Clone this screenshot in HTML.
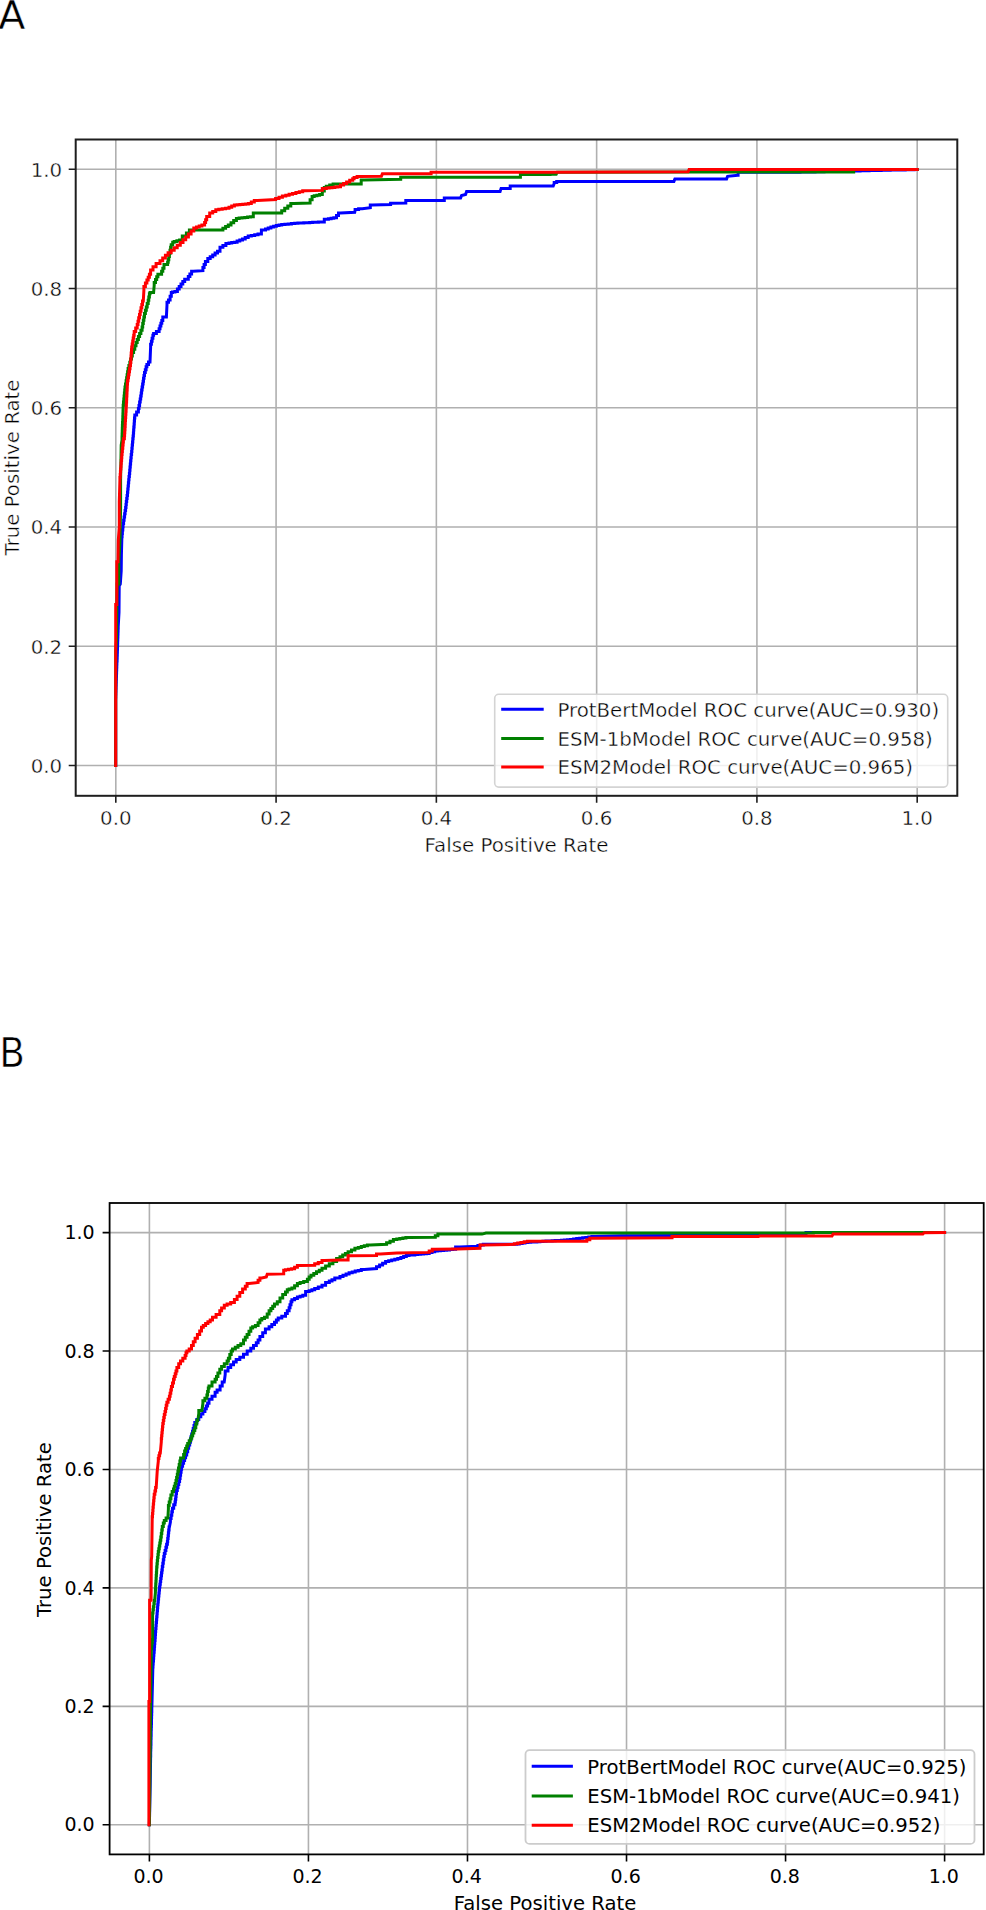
<!DOCTYPE html>
<html><head><meta charset="utf-8"><title>ROC curves</title>
<style>html,body{margin:0;padding:0;background:#fff;}body{width:986px;height:1910px;overflow:hidden;}svg{display:block;}</style></head><body>
<svg width="986" height="1910" viewBox="0 0 986 1910" font-family="'DejaVu Sans', 'Liberation Sans', sans-serif" fill="#000">
<rect width="986" height="1910" fill="#fff"/>
<text transform="translate(-1.85 28.75)" font-size="39.7" stroke="#fff" stroke-width="0.5">A</text>
<text transform="translate(-0.75 1066.5) scale(0.935 1)" font-size="40.1" stroke="#fff" stroke-width="0.6">B</text>
<clipPath id="clipA"><rect x="75.7" y="139.5" width="881.6" height="656.3"/></clipPath>
<path d="M115.80 139.5V795.8M75.7 765.50H957.3M276.08 139.5V795.8M75.7 646.26H957.3M436.36 139.5V795.8M75.7 527.02H957.3M596.64 139.5V795.8M75.7 407.78H957.3M756.92 139.5V795.8M75.7 288.54H957.3M917.20 139.5V795.8M75.7 169.30H957.3" stroke="#b0b0b0" stroke-width="1.6" fill="none"/>
<path d="M115.7,765.5 115.7,700.0 115.7,697.0 115.8,697.0 115.8,694.0 115.9,694.0 115.9,691.0 116.0,691.0 116.0,688.0 116.1,688.0 116.1,685.0 116.2,685.0 116.2,682.0 116.3,682.0 116.3,679.0 116.4,679.0 116.4,676.0 116.5,676.0 116.5,673.0 116.6,673.0 116.6,670.0 116.7,670.0 116.7,667.0 116.8,667.0 116.8,664.0 116.9,664.0 116.9,661.0 117.1,661.0 117.1,658.0 117.2,658.0 117.2,655.0 117.3,655.0 117.3,652.0 117.4,652.0 117.4,649.0 117.5,649.0 117.5,646.0 117.6,646.0 117.6,643.0 117.7,643.0 117.7,640.0 117.8,640.0 117.8,637.0 117.9,637.0 117.9,634.0 118.0,634.0 118.0,631.0 118.1,631.0 118.1,628.0 118.2,628.0 118.2,625.0 118.3,625.0 119.0,612.4 119.2,586.0 120.3,584.0 121.2,571.0 121.4,555.0 121.8,540.0 121.8,536.7 122.1,536.7 122.1,533.4 122.4,533.4 122.4,530.1 122.8,530.1 122.8,526.8 123.1,526.8 123.1,523.5 123.6,523.5 123.6,520.2 124.1,520.2 124.1,517.0 124.6,517.0 124.6,513.7 125.1,513.7 125.1,510.4 125.6,510.4 125.6,507.4 126.0,507.4 126.0,504.4 126.3,504.4 126.3,501.4 126.7,501.4 126.7,498.4 127.1,498.4 127.1,495.4 127.5,495.4 127.5,492.2 127.8,492.2 127.8,489.1 128.1,489.1 128.1,486.0 128.4,486.0 128.4,482.8 128.7,482.8 128.7,479.7 129.0,479.7 129.0,476.5 129.4,476.5 129.4,473.4 129.7,473.4 129.7,470.2 130.0,470.2 130.0,467.1 130.3,467.1 130.3,464.0 130.6,464.0 130.6,460.8 130.9,460.8 130.9,457.7 131.2,457.7 131.2,454.5 131.6,454.5 131.6,451.4 131.9,451.4 131.9,448.3 132.2,448.3 132.2,445.1 132.5,445.1 132.5,442.0 132.8,442.0 132.8,438.8 133.1,438.8 133.1,435.9 133.4,435.9 133.4,432.9 133.6,432.9 133.6,429.9 133.8,429.9 133.8,426.9 134.1,426.9 134.1,423.9 134.3,423.9 134.3,420.9 134.5,420.9 134.5,417.9 134.8,417.9 134.8,414.9 136.6,414.9 136.6,411.9 138.4,411.9 138.4,408.6 139.0,408.6 139.0,405.4 139.6,405.4 139.6,402.1 140.2,402.1 140.2,399.1 140.7,399.1 140.7,396.0 141.2,396.0 141.2,393.0 141.6,393.0 141.6,389.9 142.1,389.9 142.1,387.0 142.6,387.0 142.6,384.1 143.1,384.1 143.1,381.2 143.5,381.2 143.5,378.3 144.0,378.3 144.0,375.4 144.5,375.4 144.5,372.5 145.3,372.5 145.3,369.7 146.1,369.7 146.1,366.8 146.9,366.8 146.9,364.4 148.5,364.4 148.5,362.0 150.0,362.0 150.6,347.4 150.6,344.3 151.4,344.3 151.4,341.3 152.1,341.3 152.1,338.2 152.9,338.2 152.9,335.2 153.6,335.2 153.6,333.4 156.4,333.4 156.4,331.5 159.1,331.5 159.1,328.8 160.0,328.8 160.0,326.1 160.9,326.1 160.9,323.3 161.8,323.3 161.8,320.6 162.8,320.6 162.8,316.9 166.4,316.9 167.0,304.8 167.0,302.3 168.5,302.3 168.5,299.9 170.1,299.9 170.1,296.2 171.3,296.2 171.3,292.6 172.5,292.6 172.5,292.0 174.9,292.0 174.9,291.4 177.4,291.4 177.4,288.9 179.2,288.9 179.2,286.5 181.0,286.5 181.0,284.1 182.8,284.1 182.8,281.6 184.7,281.6 184.7,279.2 188.3,279.2 188.3,276.6 189.9,276.6 189.9,273.9 191.6,273.9 191.6,271.3 193.2,271.3 202.9,270.7 202.9,267.6 204.1,267.6 204.1,264.6 205.4,264.6 205.4,261.6 207.8,261.6 207.8,258.5 210.2,258.5 210.2,256.7 212.7,256.7 212.7,254.9 215.1,254.9 215.1,253.0 217.5,253.0 217.5,251.2 220.0,251.2 220.0,247.2 222.9,247.2 222.9,245.4 225.9,245.4 225.9,243.6 229.0,243.6 229.0,243.1 231.7,243.1 231.7,242.6 234.4,242.6 234.4,242.2 237.1,242.2 237.1,241.1 239.8,241.1 239.8,240.1 242.5,240.1 242.5,239.1 245.2,239.1 245.2,237.6 248.2,237.6 248.2,236.1 251.3,236.1 251.3,235.4 254.7,235.4 254.7,234.7 258.0,234.7 258.0,234.0 261.4,234.0 261.4,230.0 265.5,230.0 265.5,229.0 268.2,229.0 268.2,228.0 270.9,228.0 270.9,226.9 273.6,226.9 273.6,226.3 276.3,226.3 276.3,225.6 279.0,225.6 279.0,224.9 281.7,224.9 281.7,224.6 284.9,224.6 284.9,224.3 288.2,224.3 288.2,223.9 291.4,223.9 291.4,223.6 294.7,223.6 294.7,223.3 297.9,223.3 297.9,223.1 300.9,223.1 300.9,223.0 303.8,223.0 303.8,222.8 306.7,222.8 306.7,222.7 309.7,222.7 309.7,222.5 312.6,222.5 312.6,222.3 315.5,222.3 315.5,222.2 318.4,222.2 318.4,222.0 321.4,222.0 321.4,221.9 324.3,221.9 324.3,219.2 328.4,219.2 328.4,218.8 331.1,218.8 331.1,218.3 333.8,218.3 333.8,217.8 336.5,217.8 336.5,215.5 338.5,215.5 338.5,213.1 340.5,213.1 354.7,212.3 355.1,210.3 355.1,209.5 358.6,209.5 358.6,208.7 362.2,208.7 370.3,207.7 370.3,205.0 372.3,205.0 390.6,204.6 390.6,203.2 392.6,203.2 405.8,203.0 405.8,200.6 407.8,200.6 444.3,200.6 444.3,197.9 446.4,197.9 460.6,197.9 461.6,195.5 465.6,194.5 466.6,191.4 500.1,191.4 501.1,188.4 510.2,188.4 510.2,186.0 512.3,186.0 550.0,186.0 553.2,186.0 554.2,183.4 554.2,182.4 556.7,182.4 556.7,181.4 559.3,181.4 673.9,181.4 674.9,178.9 726.6,178.9 727.6,176.3 737.8,175.3 738.1,175.3 738.1,172.2 800.0,172.2 800.0,172.1 803.0,172.1 803.0,172.1 806.0,172.1 806.0,172.0 809.0,172.0 809.0,171.9 812.0,171.9 812.0,171.9 815.0,171.9 815.0,171.8 818.0,171.8 818.0,171.7 821.0,171.7 821.0,171.7 824.0,171.7 824.0,171.6 827.0,171.6 827.0,171.5 830.1,171.5 830.1,171.5 833.1,171.5 833.1,171.4 836.1,171.4 836.1,171.3 839.1,171.3 839.1,171.3 842.1,171.3 842.1,171.2 845.1,171.2 845.1,171.1 848.1,171.1 848.1,171.1 851.1,171.1 851.1,171.0 854.1,171.0 854.1,170.9 857.1,170.9 857.1,170.9 860.1,170.9 860.1,170.8 863.1,170.8 863.1,170.7 866.1,170.7 866.1,170.7 869.1,170.7 869.1,170.6 872.1,170.6 872.1,170.5 875.1,170.5 875.1,170.5 878.1,170.5 878.1,170.4 881.1,170.4 881.1,170.3 884.1,170.3 884.1,170.3 887.1,170.3 887.1,170.2 890.2,170.2 890.2,170.1 893.2,170.1 893.2,170.1 896.2,170.1 896.2,170.0 899.2,170.0 899.2,169.9 902.2,169.9 902.2,169.9 905.2,169.9 905.2,169.8 908.2,169.8 908.2,169.7 911.2,169.7 911.2,169.7 914.2,169.7 914.2,169.6 917.2,169.6" stroke="#0000ff" stroke-width="3" fill="none" stroke-linejoin="miter" stroke-linecap="square" clip-path="url(#clipA)"/>
<path d="M115.7,765.5 115.7,651.0 116.5,640.0 116.9,600.0 117.2,586.0 117.2,584.0 118.8,584.0 118.8,562.0 119.6,548.0 120.0,540.0 120.6,507.9 120.6,480.3 121.2,445.1 122.0,439.9 122.0,437.0 122.1,437.0 122.1,434.1 122.2,434.1 122.2,431.2 122.3,431.2 122.3,428.3 122.4,428.3 122.4,425.5 122.5,425.5 122.5,422.6 122.7,422.6 122.7,419.7 122.8,419.7 122.8,416.8 122.9,416.8 122.9,414.0 123.0,414.0 123.0,411.1 123.1,411.1 123.1,408.2 123.2,408.2 123.2,405.2 123.5,405.2 123.5,402.1 123.8,402.1 123.8,399.1 124.1,399.1 124.1,396.0 124.4,396.0 124.4,393.0 124.7,393.0 124.7,389.9 125.0,389.9 125.0,386.9 125.5,386.9 125.5,383.9 126.1,383.9 126.1,380.8 126.6,380.8 126.6,377.8 127.1,377.8 127.1,374.7 127.6,374.7 127.6,371.7 128.1,371.7 128.1,368.5 128.9,368.5 128.9,365.4 129.8,365.4 129.8,362.2 130.6,362.2 130.6,359.0 131.5,359.0 131.5,355.9 132.3,355.9 132.3,352.5 133.6,352.5 133.6,349.2 134.8,349.2 134.8,345.8 136.0,345.8 136.0,342.5 137.2,342.5 137.2,339.4 138.4,339.4 138.4,336.4 139.6,336.4 139.6,333.4 140.9,333.4 140.9,330.3 142.1,330.3 142.1,327.0 142.7,327.0 142.7,323.6 143.3,323.6 143.3,320.3 143.9,320.3 143.9,316.9 144.5,316.9 144.5,313.6 145.4,313.6 145.4,310.2 146.3,310.2 146.3,306.9 147.2,306.9 147.2,303.6 148.2,303.6 148.2,300.3 148.8,300.3 148.8,297.1 149.4,297.1 149.4,293.8 150.0,293.8 150.0,292.6 153.6,292.6 154.2,285.3 154.2,282.4 155.5,282.4 155.5,279.6 156.7,279.6 156.7,276.8 157.9,276.8 157.9,274.3 161.6,274.3 161.6,271.3 162.8,271.3 162.8,268.2 164.0,268.2 164.0,264.6 167.6,264.6 167.6,262.2 168.2,262.2 168.2,259.7 168.8,259.7 168.8,256.6 169.4,256.6 169.4,253.5 170.0,253.5 170.0,250.3 170.6,250.3 170.6,247.2 171.2,247.2 171.2,244.7 172.7,244.7 172.7,242.2 174.2,242.2 174.2,241.5 176.9,241.5 176.9,240.8 179.6,240.8 179.6,240.1 182.3,240.1 182.3,236.1 186.4,236.1 186.4,233.0 189.4,233.0 189.4,230.0 192.4,230.0 222.9,230.0 222.9,228.3 225.6,228.3 225.6,226.6 228.3,226.6 228.3,224.9 231.0,224.9 231.0,222.7 233.7,222.7 233.7,220.6 236.4,220.6 236.4,218.4 239.1,218.4 239.1,218.1 242.0,218.1 242.0,217.8 244.8,217.8 244.8,217.4 247.6,217.4 247.6,217.1 250.5,217.1 250.5,216.8 253.3,216.8 253.3,213.1 255.3,213.1 281.7,213.1 281.7,210.7 284.7,210.7 284.7,208.3 287.8,208.3 287.8,205.9 290.8,205.9 290.8,203.6 293.9,203.6 310.1,203.0 310.1,199.8 312.1,199.8 312.1,196.5 314.2,196.5 314.2,195.8 316.9,195.8 316.9,195.2 319.6,195.2 319.6,194.5 322.3,194.5 322.3,190.9 324.3,190.9 324.3,187.4 326.3,187.4 326.3,186.2 329.7,186.2 329.7,185.1 333.1,185.1 333.1,183.9 336.5,183.9 350.0,183.9 361.2,183.9 361.2,179.9 364.2,179.9 400.7,179.3 400.7,177.2 402.7,177.2 520.4,177.2 520.4,174.6 522.4,174.6 550.0,174.6 550.0,174.3 556.2,174.3 557.2,172.2 690.0,172.0 853.7,172.0 853.7,169.6 917.2,169.6" stroke="#008000" stroke-width="3" fill="none" stroke-linejoin="miter" stroke-linecap="square" clip-path="url(#clipA)"/>
<path d="M115.7,765.5 115.7,604.4 116.8,604.4 116.8,561.8 118.0,561.8 118.3,540.0 119.3,526.8 119.3,501.7 119.9,480.3 119.9,477.5 120.2,477.5 120.2,474.6 120.4,474.6 120.4,471.8 120.6,471.8 120.6,469.0 120.9,469.0 120.9,466.2 121.1,466.2 121.1,463.3 121.3,463.3 121.3,460.5 121.6,460.5 121.6,457.7 121.8,457.7 121.8,454.5 122.1,454.5 122.1,451.4 122.4,451.4 122.4,448.3 122.8,448.3 122.8,445.1 123.1,445.1 123.1,442.0 123.4,442.0 123.4,438.8 123.7,438.8 124.4,438.8 124.4,435.8 124.6,435.8 124.6,432.7 124.8,432.7 124.8,429.7 125.0,429.7 125.0,426.6 125.2,426.6 125.2,423.5 125.3,423.5 125.3,420.5 125.5,420.5 125.5,417.4 125.7,417.4 125.7,414.3 125.9,414.3 125.9,411.3 126.1,411.3 126.1,408.2 126.2,408.2 126.2,405.2 126.4,405.2 126.4,402.1 126.6,402.1 126.6,399.1 126.7,399.1 126.7,396.0 126.9,396.0 126.9,393.0 127.0,393.0 127.0,390.0 127.2,390.0 127.2,386.9 127.3,386.9 127.3,383.9 127.5,383.9 127.5,380.8 128.0,380.8 128.0,377.8 128.5,377.8 128.5,374.7 129.0,374.7 129.0,371.7 129.5,371.7 129.5,368.7 130.0,368.7 130.0,365.6 130.5,365.6 130.5,362.4 130.8,362.4 130.8,359.3 131.0,359.3 131.0,356.1 131.2,356.1 131.2,353.0 131.5,353.0 131.5,349.8 131.7,349.8 131.7,346.9 132.2,346.9 132.2,343.9 132.7,343.9 132.7,341.0 133.2,341.0 133.2,338.1 133.7,338.1 133.7,335.2 134.2,335.2 134.2,331.5 135.7,331.5 135.7,327.9 137.2,327.9 137.2,324.5 138.0,324.5 138.0,321.2 138.7,321.2 138.7,317.8 139.5,317.8 139.5,314.5 140.2,314.5 140.2,311.2 141.0,311.2 141.0,307.8 141.8,307.8 141.8,304.5 142.5,304.5 142.5,301.1 143.3,301.1 143.9,290.2 143.9,286.5 145.4,286.5 145.4,282.9 146.9,282.9 146.9,280.0 148.2,280.0 148.2,277.2 149.4,277.2 149.4,274.3 150.6,274.3 150.6,270.1 153.0,270.1 153.0,266.7 156.1,266.7 156.1,263.4 159.1,263.4 160.0,263.4 160.0,260.7 162.7,260.7 162.7,258.0 165.4,258.0 165.4,255.3 168.1,255.3 168.1,252.8 171.2,252.8 171.2,250.3 174.2,250.3 174.2,247.7 177.2,247.7 177.2,245.2 180.3,245.2 180.3,242.5 183.0,242.5 183.0,239.8 185.7,239.8 185.7,237.1 188.4,237.1 188.4,234.0 191.1,234.0 191.1,231.0 193.8,231.0 193.8,227.9 196.5,227.9 196.5,226.9 199.2,226.9 199.2,225.9 201.9,225.9 201.9,224.9 204.6,224.9 204.6,222.4 205.6,222.4 205.6,219.8 206.7,219.8 206.7,216.5 209.7,216.5 209.7,213.1 212.7,213.1 212.7,211.4 215.8,211.4 215.8,209.7 218.8,209.7 218.8,209.2 222.2,209.2 222.2,208.8 225.6,208.8 225.6,208.3 229.0,208.3 229.0,207.2 231.7,207.2 231.7,206.1 234.4,206.1 234.4,205.0 237.1,205.0 237.1,204.7 239.9,204.7 239.9,204.5 242.8,204.5 242.8,204.2 245.6,204.2 245.6,203.9 248.4,203.9 248.4,203.6 251.3,203.6 251.3,202.1 254.3,202.1 254.3,200.6 257.4,200.6 275.6,199.6 275.6,198.4 279.0,198.4 279.0,197.3 282.4,197.3 282.4,196.1 285.8,196.1 285.8,195.2 289.1,195.2 289.1,194.3 292.5,194.3 292.5,193.5 295.9,193.5 295.9,192.6 299.3,192.6 299.3,191.7 302.7,191.7 302.7,190.8 306.0,190.8 322.3,190.4 322.3,188.4 326.3,188.4 326.3,188.1 329.2,188.1 329.2,187.7 332.0,187.7 332.0,187.4 334.8,187.4 334.8,187.1 337.7,187.1 337.7,186.8 340.5,186.8 340.5,185.1 343.6,185.1 343.6,183.5 346.6,183.5 346.6,181.9 349.7,181.9 349.7,180.3 352.7,180.3 352.7,178.7 354.1,178.7 354.1,177.6 357.1,177.6 357.1,176.6 360.1,176.6 381.4,176.2 382.4,173.8 431.1,173.8 431.1,172.2 433.2,172.2 550.0,172.2 688.1,171.8 689.1,169.6 917.2,169.6" stroke="#ff0000" stroke-width="3" fill="none" stroke-linejoin="miter" stroke-linecap="square" clip-path="url(#clipA)"/>
<rect x="494.7" y="694.3" width="453.0" height="92.8" rx="4" ry="4" fill="#ffffff" fill-opacity="0.8" stroke="#d4d4d4" stroke-width="1.6"/>
<path d="M502.7 709.2H542.2" stroke="#0000ff" stroke-width="3" stroke-linecap="square"/>
<text stroke="#fff" stroke-width="0.4" x="557.4" y="716.5" font-size="19.8">ProtBertModel ROC curve(AUC=0.930)</text>
<path d="M502.7 738.4H542.2" stroke="#008000" stroke-width="3" stroke-linecap="square"/>
<text stroke="#fff" stroke-width="0.4" x="557.4" y="745.7" font-size="19.8">ESM-1bModel ROC curve(AUC=0.958)</text>
<path d="M502.7 767.1H542.2" stroke="#ff0000" stroke-width="3" stroke-linecap="square"/>
<text stroke="#fff" stroke-width="0.4" x="557.4" y="774.4" font-size="19.8">ESM2Model ROC curve(AUC=0.965)</text>
<rect x="75.7" y="139.5" width="881.6" height="656.3" fill="none" stroke="#1e1e1e" stroke-width="2.0" stroke-linejoin="miter"/>
<path d="M115.80 795.8v7M75.7 765.50h-7M276.08 795.8v7M75.7 646.26h-7M436.36 795.8v7M75.7 527.02h-7M596.64 795.8v7M75.7 407.78h-7M756.92 795.8v7M75.7 288.54h-7M917.20 795.8v7M75.7 169.30h-7" stroke="#1e1e1e" stroke-width="1.6"/>
<text stroke="#fff" stroke-width="0.4" x="115.8" y="824.7" font-size="19.8" text-anchor="middle">0.0</text>
<text stroke="#fff" stroke-width="0.4" x="62.1" y="772.8" font-size="19.8" text-anchor="end">0.0</text>
<text stroke="#fff" stroke-width="0.4" x="276.1" y="824.7" font-size="19.8" text-anchor="middle">0.2</text>
<text stroke="#fff" stroke-width="0.4" x="62.1" y="653.6" font-size="19.8" text-anchor="end">0.2</text>
<text stroke="#fff" stroke-width="0.4" x="436.4" y="824.7" font-size="19.8" text-anchor="middle">0.4</text>
<text stroke="#fff" stroke-width="0.4" x="62.1" y="534.3" font-size="19.8" text-anchor="end">0.4</text>
<text stroke="#fff" stroke-width="0.4" x="596.6" y="824.7" font-size="19.8" text-anchor="middle">0.6</text>
<text stroke="#fff" stroke-width="0.4" x="62.1" y="415.1" font-size="19.8" text-anchor="end">0.6</text>
<text stroke="#fff" stroke-width="0.4" x="756.9" y="824.7" font-size="19.8" text-anchor="middle">0.8</text>
<text stroke="#fff" stroke-width="0.4" x="62.1" y="295.8" font-size="19.8" text-anchor="end">0.8</text>
<text stroke="#fff" stroke-width="0.4" x="917.2" y="824.7" font-size="19.8" text-anchor="middle">1.0</text>
<text stroke="#fff" stroke-width="0.4" x="62.1" y="176.6" font-size="19.8" text-anchor="end">1.0</text>
<text stroke="#fff" stroke-width="0.4" x="516.5" y="851.9" text-anchor="middle" font-size="19.8">False Positive Rate</text>
<text stroke="#fff" stroke-width="0.4" transform="translate(19.0 467.6) rotate(-90)" x="0" y="0" font-size="19.8" text-anchor="middle">True Positive Rate</text>
<clipPath id="clipB"><rect x="109.6" y="1203.0" width="874.1" height="651.4"/></clipPath>
<path d="M149.40 1203.0V1854.4M109.6 1824.80H983.7M308.44 1203.0V1854.4M109.6 1706.36H983.7M467.48 1203.0V1854.4M109.6 1587.92H983.7M626.52 1203.0V1854.4M109.6 1469.48H983.7M785.56 1203.0V1854.4M109.6 1351.04H983.7M944.60 1203.0V1854.4M109.6 1232.60H983.7" stroke="#b0b0b0" stroke-width="1.6" fill="none"/>
<path d="M149.4,1824.8 150.2,1785.0 150.6,1759.0 150.6,1756.0 150.7,1756.0 150.7,1753.1 150.7,1753.1 150.7,1750.1 150.8,1750.1 150.8,1747.2 150.9,1747.2 150.9,1744.2 151.0,1744.2 151.0,1741.2 151.0,1741.2 151.0,1738.3 151.1,1738.3 151.1,1735.3 151.2,1735.3 151.2,1732.3 151.2,1732.3 151.2,1729.4 151.3,1729.4 151.3,1726.4 151.4,1726.4 151.4,1723.5 151.5,1723.5 151.5,1720.5 151.5,1720.5 151.5,1717.5 151.6,1717.5 151.6,1714.6 151.7,1714.6 151.7,1711.6 151.8,1711.6 151.8,1708.7 151.8,1708.7 151.8,1705.7 151.9,1705.7 152.8,1670.0 152.8,1667.0 153.0,1667.0 153.0,1664.1 153.2,1664.1 153.2,1661.1 153.5,1661.1 153.5,1658.2 153.7,1658.2 153.7,1655.2 153.9,1655.2 153.9,1652.2 154.2,1652.2 154.2,1649.3 154.4,1649.3 154.4,1646.3 154.6,1646.3 154.6,1643.4 154.8,1643.4 154.8,1640.4 155.1,1640.4 155.1,1637.5 155.3,1637.5 155.3,1634.5 155.5,1634.5 155.5,1631.5 155.7,1631.5 155.7,1628.6 156.0,1628.6 156.0,1625.6 156.2,1625.6 156.2,1622.6 156.5,1622.6 156.5,1619.7 156.7,1619.7 156.7,1616.7 157.0,1616.7 157.0,1613.7 157.2,1613.7 157.2,1610.8 157.5,1610.8 157.5,1607.8 157.7,1607.8 157.7,1604.8 158.0,1604.8 158.0,1601.9 158.3,1601.9 158.3,1598.9 158.6,1598.9 158.6,1595.9 158.9,1595.9 158.9,1593.0 159.2,1593.0 159.2,1590.0 159.5,1590.0 159.5,1587.1 159.9,1587.1 159.9,1584.3 160.3,1584.3 160.3,1581.4 160.7,1581.4 160.7,1578.5 161.1,1578.5 161.1,1575.7 161.5,1575.7 161.5,1572.8 161.9,1572.8 161.9,1570.0 162.3,1570.0 162.3,1566.6 162.8,1566.6 162.8,1563.2 163.3,1563.2 163.3,1559.8 163.8,1559.8 163.8,1556.5 164.3,1556.5 164.3,1553.4 165.1,1553.4 165.1,1550.4 165.9,1550.4 165.9,1547.3 166.6,1547.3 166.6,1544.3 167.4,1544.3 167.4,1541.4 167.7,1541.4 167.7,1538.6 168.1,1538.6 168.1,1535.7 168.4,1535.7 168.4,1532.8 168.7,1532.8 168.7,1529.9 169.1,1529.9 169.1,1527.1 169.4,1527.1 170.4,1522.0 170.4,1518.6 171.1,1518.6 171.1,1515.2 171.8,1515.2 171.8,1511.8 172.4,1511.8 172.4,1508.3 173.7,1508.3 173.7,1504.8 175.0,1504.8 175.0,1502.0 175.4,1502.0 175.4,1499.2 175.8,1499.2 175.8,1496.4 176.1,1496.4 176.1,1493.6 176.5,1493.6 176.5,1490.5 177.3,1490.5 177.3,1487.5 178.0,1487.5 178.0,1484.5 178.8,1484.5 178.8,1481.4 179.6,1481.4 179.6,1478.4 180.1,1478.4 180.1,1475.3 180.6,1475.3 180.6,1472.3 181.1,1472.3 181.1,1469.2 181.6,1469.2 181.6,1466.2 182.6,1466.2 182.6,1463.2 183.6,1463.2 183.6,1460.5 184.6,1460.5 184.6,1457.8 185.6,1457.8 185.6,1455.0 186.7,1455.0 186.7,1451.7 187.7,1451.7 187.7,1448.3 188.7,1448.3 188.7,1444.9 189.7,1444.9 189.7,1442.2 190.4,1442.2 190.4,1439.5 191.0,1439.5 191.0,1436.8 191.7,1436.8 191.7,1434.0 192.5,1434.0 192.5,1431.2 193.2,1431.2 193.2,1428.4 194.0,1428.4 194.0,1425.6 194.8,1425.6 194.8,1422.6 196.8,1422.6 196.8,1419.5 198.8,1419.5 198.8,1416.8 200.8,1416.8 200.8,1414.1 202.9,1414.1 202.9,1411.4 204.9,1411.4 204.9,1408.7 206.3,1408.7 206.3,1406.0 207.6,1406.0 207.6,1403.3 209.0,1403.3 209.0,1399.3 212.0,1399.3 212.0,1396.2 215.1,1396.2 215.1,1392.2 217.1,1392.2 217.1,1390.1 220.1,1390.1 220.1,1386.1 222.2,1386.1 222.2,1382.0 224.2,1382.0 224.2,1382.0 225.2,1374.7 225.2,1371.0 228.0,1371.0 228.0,1367.4 230.7,1367.4 230.7,1364.7 233.5,1364.7 233.5,1361.9 236.2,1361.9 236.2,1359.6 239.8,1359.6 239.8,1357.3 243.5,1357.3 243.5,1354.2 247.2,1354.2 247.2,1351.0 250.8,1351.0 250.8,1348.2 253.5,1348.2 253.5,1345.5 256.3,1345.5 256.3,1342.7 258.1,1342.7 258.1,1340.0 259.9,1340.0 259.9,1336.4 262.7,1336.4 262.7,1332.7 265.4,1332.7 265.4,1329.0 269.1,1329.0 269.1,1326.8 271.8,1326.8 271.8,1324.5 274.5,1324.5 274.5,1322.2 276.4,1322.2 276.4,1319.9 278.2,1319.9 278.2,1318.1 281.8,1318.1 281.8,1316.3 285.5,1316.3 285.5,1313.5 287.3,1313.5 287.3,1310.8 289.1,1310.8 289.1,1307.8 290.0,1307.8 290.0,1304.7 291.0,1304.7 291.0,1301.7 291.9,1301.7 291.9,1299.8 294.6,1299.8 294.6,1298.5 297.4,1298.5 297.4,1297.1 300.1,1297.1 300.1,1296.2 302.8,1296.2 302.8,1295.3 305.6,1295.3 305.6,1291.6 309.2,1291.6 309.2,1290.7 311.9,1290.7 311.9,1289.8 314.7,1289.8 314.7,1288.4 318.3,1288.4 318.3,1287.1 322.0,1287.1 322.0,1285.2 325.6,1285.2 325.6,1282.5 329.3,1282.5 329.3,1281.1 332.0,1281.1 332.0,1279.8 334.8,1279.8 334.8,1277.9 338.4,1277.9 340.0,1277.9 340.0,1276.6 343.0,1276.6 343.0,1275.3 346.1,1275.3 346.1,1274.0 349.1,1274.0 349.1,1272.7 352.2,1272.7 352.2,1271.9 355.2,1271.9 355.2,1271.1 358.3,1271.1 358.3,1270.4 361.3,1270.4 361.3,1269.6 364.3,1269.6 376.5,1268.6 376.5,1266.8 379.6,1266.8 379.6,1265.1 382.6,1265.1 382.6,1263.3 385.6,1263.3 385.6,1261.5 388.7,1261.5 388.7,1260.8 391.7,1260.8 391.7,1260.0 394.8,1260.0 394.8,1259.2 397.8,1259.2 397.8,1258.5 400.9,1258.5 400.9,1257.5 403.6,1257.5 403.6,1256.4 406.3,1256.4 406.3,1255.4 409.0,1255.4 409.0,1255.1 411.9,1255.1 411.9,1254.9 414.8,1254.9 414.8,1254.6 417.7,1254.6 417.7,1254.3 420.6,1254.3 420.6,1254.0 423.5,1254.0 423.5,1253.7 426.4,1253.7 426.4,1253.4 429.2,1253.4 429.2,1252.6 432.0,1252.6 432.0,1251.8 434.7,1251.8 434.7,1251.0 437.4,1251.0 437.4,1250.7 440.4,1250.7 440.4,1250.4 443.4,1250.4 443.4,1250.2 446.5,1250.2 446.5,1249.9 449.5,1249.9 449.5,1249.6 452.6,1249.6 452.6,1249.3 455.6,1249.3 455.6,1246.9 459.7,1246.9 477.9,1246.3 477.9,1245.6 480.6,1245.6 480.6,1244.9 483.3,1244.9 483.3,1244.3 486.0,1244.3 516.5,1244.3 516.5,1243.9 519.3,1243.9 519.3,1243.5 522.1,1243.5 522.1,1243.1 525.0,1243.1 525.0,1242.6 527.8,1242.6 527.8,1242.2 530.7,1242.2 530.7,1242.1 533.7,1242.1 533.7,1241.9 536.8,1241.9 536.8,1241.7 539.9,1241.7 539.9,1241.5 542.9,1241.5 542.9,1241.3 546.0,1241.3 546.0,1241.1 549.1,1241.1 549.1,1241.0 552.2,1241.0 552.2,1240.8 555.2,1240.8 555.2,1240.6 558.3,1240.6 558.3,1240.4 561.4,1240.4 561.4,1240.2 564.4,1240.2 564.4,1240.0 567.5,1240.0 567.5,1239.8 570.6,1239.8 570.6,1239.4 573.6,1239.4 573.6,1239.0 576.7,1239.0 576.7,1238.6 579.7,1238.6 579.7,1238.2 582.7,1238.2 582.7,1237.8 585.8,1237.8 585.8,1237.4 588.8,1237.4 588.8,1237.0 591.9,1237.0 591.9,1236.6 594.9,1236.6 621.3,1235.8 742.2,1235.2 806.0,1235.2 806.0,1232.6 944.6,1232.6" stroke="#0000ff" stroke-width="3" fill="none" stroke-linejoin="miter" stroke-linecap="square" clip-path="url(#clipB)"/>
<path d="M149.4,1824.8 150.3,1740.0 150.6,1700.0 151.3,1652.0 151.3,1648.9 151.6,1648.9 151.6,1645.8 151.9,1645.8 151.9,1642.8 152.3,1642.8 152.3,1639.7 152.6,1639.7 152.6,1616.0 152.6,1612.9 153.0,1612.9 153.0,1609.8 153.4,1609.8 153.4,1606.7 153.9,1606.7 153.9,1603.6 154.3,1603.6 154.3,1600.5 154.7,1600.5 155.4,1592.6 155.4,1589.8 155.6,1589.8 155.6,1586.9 155.7,1586.9 155.7,1584.1 155.9,1584.1 155.9,1581.3 156.1,1581.3 156.1,1578.5 156.2,1578.5 156.2,1575.6 156.4,1575.6 156.4,1572.8 156.6,1572.8 156.6,1570.0 156.7,1570.0 156.7,1566.9 157.0,1566.9 157.0,1563.8 157.3,1563.8 157.3,1560.6 157.6,1560.6 157.6,1557.5 158.0,1557.5 158.0,1554.4 158.3,1554.4 158.3,1551.6 158.8,1551.6 158.8,1548.8 159.3,1548.8 159.3,1545.9 159.8,1545.9 159.8,1543.1 160.3,1543.1 160.3,1540.2 160.8,1540.2 160.8,1536.9 161.3,1536.9 161.3,1533.5 161.8,1533.5 161.8,1530.1 162.3,1530.1 162.3,1526.5 163.3,1526.5 163.3,1523.0 164.3,1523.0 164.3,1520.5 166.1,1520.5 166.1,1517.9 167.9,1517.9 168.4,1508.8 168.4,1505.4 169.2,1505.4 169.2,1502.0 170.1,1502.0 170.1,1498.7 170.9,1498.7 170.9,1495.1 172.2,1495.1 172.2,1491.6 173.5,1491.6 173.5,1488.9 174.3,1488.9 174.3,1486.2 175.2,1486.2 175.2,1483.5 176.0,1483.5 176.0,1480.4 176.6,1480.4 176.6,1477.4 177.3,1477.4 177.3,1474.3 177.9,1474.3 177.9,1471.3 178.5,1471.3 178.5,1467.9 179.2,1467.9 179.2,1464.5 179.9,1464.5 179.9,1461.1 180.6,1461.1 180.6,1458.1 183.6,1458.1 183.6,1454.5 184.6,1454.5 184.6,1451.0 185.6,1451.0 185.6,1448.5 186.7,1448.5 186.7,1445.9 187.7,1445.9 187.7,1443.4 189.2,1443.4 189.2,1440.8 190.7,1440.8 190.7,1438.3 191.7,1438.3 191.7,1435.8 192.7,1435.8 192.7,1433.1 193.8,1433.1 193.8,1430.4 194.8,1430.4 194.8,1427.7 195.8,1427.7 195.8,1424.1 196.8,1424.1 196.8,1420.6 197.8,1420.6 198.8,1413.5 198.8,1410.4 201.9,1410.4 202.9,1403.3 202.9,1400.8 204.9,1400.8 204.9,1398.3 206.9,1398.3 206.9,1394.9 207.6,1394.9 207.6,1391.5 208.3,1391.5 208.3,1388.1 209.0,1388.1 209.0,1386.1 212.0,1386.1 212.0,1382.0 215.1,1382.0 215.1,1382.0 215.1,1379.3 216.5,1379.3 216.5,1376.5 217.9,1376.5 217.9,1372.9 219.8,1372.9 219.8,1369.2 221.6,1369.2 221.6,1366.5 224.3,1366.5 224.3,1363.7 227.1,1363.7 227.1,1361.0 228.4,1361.0 228.4,1358.3 229.8,1358.3 229.8,1354.6 231.2,1354.6 231.2,1351.0 232.5,1351.0 232.5,1349.1 235.3,1349.1 235.3,1347.3 238.0,1347.3 238.0,1345.5 240.8,1345.5 240.8,1343.7 243.5,1343.7 243.5,1340.0 245.3,1340.0 245.3,1337.3 247.1,1337.3 247.1,1334.5 249.0,1334.5 249.0,1331.3 250.8,1331.3 250.8,1328.1 252.6,1328.1 252.6,1326.8 255.4,1326.8 255.4,1325.4 258.1,1325.4 258.1,1322.7 259.9,1322.7 259.9,1319.9 261.8,1319.9 261.8,1318.6 264.5,1318.6 264.5,1317.2 267.2,1317.2 267.2,1314.0 269.1,1314.0 269.1,1310.8 270.9,1310.8 270.9,1308.5 272.7,1308.5 272.7,1306.2 274.5,1306.2 274.5,1304.0 277.3,1304.0 277.3,1301.7 280.0,1301.7 280.0,1298.0 282.7,1298.0 282.7,1294.4 285.5,1294.4 285.5,1292.1 287.3,1292.1 287.3,1289.8 289.1,1289.8 289.1,1288.9 291.9,1288.9 291.9,1288.0 294.6,1288.0 294.6,1285.7 297.4,1285.7 297.4,1283.4 300.1,1283.4 300.1,1282.5 303.7,1282.5 303.7,1281.6 307.4,1281.6 307.4,1279.3 309.2,1279.3 309.2,1277.0 311.0,1277.0 311.0,1275.2 313.8,1275.2 313.8,1273.4 316.5,1273.4 316.5,1271.8 319.3,1271.8 319.3,1270.3 322.0,1270.3 322.0,1268.2 325.6,1268.2 325.6,1266.1 329.3,1266.1 329.3,1263.8 332.9,1263.8 332.9,1261.5 336.6,1261.5 336.6,1258.5 340.0,1258.5 340.0,1256.8 342.7,1256.8 342.7,1255.1 345.4,1255.1 345.4,1253.4 348.1,1253.4 348.1,1251.7 351.5,1251.7 351.5,1250.0 354.9,1250.0 354.9,1248.3 358.3,1248.3 358.3,1247.5 361.3,1247.5 361.3,1246.6 364.3,1246.6 364.3,1245.7 367.4,1245.7 367.4,1244.9 370.4,1244.9 386.6,1244.3 386.6,1242.7 390.0,1242.7 390.0,1241.2 393.4,1241.2 393.4,1239.6 396.8,1239.6 396.8,1239.1 399.8,1239.1 399.8,1238.6 402.9,1238.6 402.9,1238.1 405.9,1238.1 405.9,1237.6 409.0,1237.6 435.3,1237.2 435.3,1235.7 437.9,1235.7 437.9,1234.1 440.4,1234.1 482.0,1234.1 486.0,1233.1 813.3,1233.1 813.3,1232.6 944.6,1232.6" stroke="#008000" stroke-width="3" fill="none" stroke-linejoin="miter" stroke-linecap="square" clip-path="url(#clipB)"/>
<path d="M148.9,1824.8 148.9,1701.5 149.6,1701.5 149.6,1600.2 151.1,1600.2 151.3,1560.0 151.7,1556.5 152.2,1520.0 152.2,1516.8 152.5,1516.8 152.5,1513.6 152.8,1513.6 152.8,1510.4 153.0,1510.4 153.0,1507.2 153.3,1507.2 153.3,1504.0 153.6,1504.0 153.6,1500.8 153.9,1500.8 153.9,1497.7 154.2,1497.7 154.2,1494.3 154.9,1494.3 154.9,1490.9 155.6,1490.9 155.6,1487.5 156.2,1487.5 157.2,1471.3 158.3,1461.1 158.3,1458.4 158.9,1458.4 158.9,1455.7 159.6,1455.7 159.6,1453.0 160.3,1453.0 161.3,1441.9 161.3,1438.8 161.6,1438.8 161.6,1435.8 161.9,1435.8 161.9,1432.7 162.2,1432.7 162.2,1429.7 162.5,1429.7 162.5,1426.7 162.8,1426.7 162.8,1423.6 163.3,1423.6 163.3,1420.6 163.8,1420.6 163.8,1417.5 164.3,1417.5 164.3,1414.5 165.0,1414.5 165.0,1411.4 165.6,1411.4 165.6,1408.4 166.2,1408.4 166.2,1405.3 166.9,1405.3 166.9,1402.3 168.1,1402.3 168.1,1399.3 169.4,1399.3 169.4,1396.2 170.1,1396.2 170.1,1393.2 170.8,1393.2 170.8,1390.1 171.4,1390.1 171.4,1386.6 172.5,1386.6 172.5,1383.0 173.5,1383.0 173.5,1382.0 173.5,1379.3 174.3,1379.3 174.3,1376.5 175.2,1376.5 175.2,1373.8 176.0,1373.8 176.0,1371.0 176.9,1371.0 176.9,1367.4 178.7,1367.4 178.7,1363.7 180.5,1363.7 180.5,1361.0 182.8,1361.0 182.8,1358.3 185.1,1358.3 185.1,1355.5 186.0,1355.5 186.0,1352.8 186.9,1352.8 186.9,1351.0 189.2,1351.0 189.2,1349.1 191.5,1349.1 191.5,1345.5 193.3,1345.5 193.3,1341.8 195.1,1341.8 195.1,1338.2 197.4,1338.2 197.4,1334.5 199.7,1334.5 199.7,1330.9 201.5,1330.9 201.5,1327.2 203.3,1327.2 203.3,1325.4 205.6,1325.4 205.6,1323.6 207.9,1323.6 207.9,1321.8 210.2,1321.8 210.2,1319.9 212.5,1319.9 212.5,1317.2 216.1,1317.2 216.1,1314.5 219.8,1314.5 219.8,1310.8 221.6,1310.8 221.6,1308.1 224.3,1308.1 224.3,1305.3 227.1,1305.3 227.1,1303.9 230.7,1303.9 230.7,1302.6 234.4,1302.6 234.4,1299.4 237.1,1299.4 237.1,1296.2 239.8,1296.2 239.8,1292.5 242.6,1292.5 242.6,1288.9 245.3,1288.9 245.3,1286.2 247.1,1286.2 247.1,1283.4 249.0,1283.4 258.1,1282.5 258.1,1280.2 259.9,1280.2 259.9,1277.9 261.8,1277.9 266.3,1277.0 267.2,1274.3 283.7,1273.9 283.7,1270.3 285.5,1270.3 285.5,1269.8 288.5,1269.8 288.5,1269.3 291.6,1269.3 291.6,1268.8 294.6,1268.8 294.6,1267.2 297.4,1267.2 297.4,1265.5 300.1,1265.5 314.7,1265.2 314.7,1263.8 318.3,1263.8 318.3,1262.4 322.0,1262.4 322.0,1260.6 324.7,1260.6 340.0,1259.9 348.1,1259.9 348.1,1255.8 350.1,1255.8 376.5,1255.4 376.5,1254.0 380.6,1254.0 396.8,1253.0 429.2,1252.4 429.2,1250.9 432.3,1250.9 432.3,1249.3 435.3,1249.3 457.6,1248.9 480.0,1248.3 480.0,1244.9 484.0,1244.9 514.4,1244.3 514.4,1243.7 517.7,1243.7 517.7,1243.1 520.9,1243.1 520.9,1242.4 524.2,1242.4 524.2,1241.8 527.4,1241.8 527.4,1241.2 530.7,1241.2 586.8,1241.2 586.8,1239.7 589.8,1239.7 589.8,1238.2 592.9,1238.2 672.0,1237.8 672.0,1236.6 674.0,1236.6 720.0,1236.6 758.5,1236.6 759.6,1235.9 832.0,1235.9 833.1,1234.0 922.9,1234.0 924.1,1232.8 944.6,1232.6" stroke="#ff0000" stroke-width="3" fill="none" stroke-linejoin="miter" stroke-linecap="square" clip-path="url(#clipB)"/>
<rect x="525.5" y="1750.1" width="449.0" height="93.8" rx="4" ry="4" fill="#ffffff" fill-opacity="0.8" stroke="#cccccc" stroke-width="1.8"/>
<path d="M533.2 1766.3H571.4" stroke="#0000ff" stroke-width="3" stroke-linecap="square"/>
<text x="587.3" y="1773.5" font-size="19.65">ProtBertModel ROC curve(AUC=0.925)</text>
<path d="M533.2 1796.0H571.4" stroke="#008000" stroke-width="3" stroke-linecap="square"/>
<text x="587.3" y="1803.2" font-size="19.65">ESM-1bModel ROC curve(AUC=0.941)</text>
<path d="M533.2 1825.2H571.4" stroke="#ff0000" stroke-width="3" stroke-linecap="square"/>
<text x="587.3" y="1832.4" font-size="19.65">ESM2Model ROC curve(AUC=0.952)</text>
<rect x="109.6" y="1203.0" width="874.1" height="651.4" fill="none" stroke="#000" stroke-width="1.8" stroke-linejoin="miter"/>
<path d="M149.40 1854.4v7M109.6 1824.80h-7M308.44 1854.4v7M109.6 1706.36h-7M467.48 1854.4v7M109.6 1587.92h-7M626.52 1854.4v7M109.6 1469.48h-7M785.56 1854.4v7M109.6 1351.04h-7M944.60 1854.4v7M109.6 1232.60h-7" stroke="#000" stroke-width="1.6"/>
<text x="148.6" y="1883.1" font-size="19.0" text-anchor="middle">0.0</text>
<text x="94.6" y="1831.4" font-size="19.0" text-anchor="end">0.0</text>
<text x="307.6" y="1883.1" font-size="19.0" text-anchor="middle">0.2</text>
<text x="94.6" y="1713.0" font-size="19.0" text-anchor="end">0.2</text>
<text x="466.7" y="1883.1" font-size="19.0" text-anchor="middle">0.4</text>
<text x="94.6" y="1594.5" font-size="19.0" text-anchor="end">0.4</text>
<text x="625.7" y="1883.1" font-size="19.0" text-anchor="middle">0.6</text>
<text x="94.6" y="1476.1" font-size="19.0" text-anchor="end">0.6</text>
<text x="784.8" y="1883.1" font-size="19.0" text-anchor="middle">0.8</text>
<text x="94.6" y="1357.6" font-size="19.0" text-anchor="end">0.8</text>
<text x="943.8" y="1883.1" font-size="19.0" text-anchor="middle">1.0</text>
<text x="94.6" y="1239.2" font-size="19.0" text-anchor="end">1.0</text>
<text x="545.1" y="1910.4" text-anchor="middle" font-size="19.65">False Positive Rate</text>
<text transform="translate(51.0 1529.6) rotate(-90)" x="0" y="0" font-size="19.65" text-anchor="middle">True Positive Rate</text>
</svg></body></html>
